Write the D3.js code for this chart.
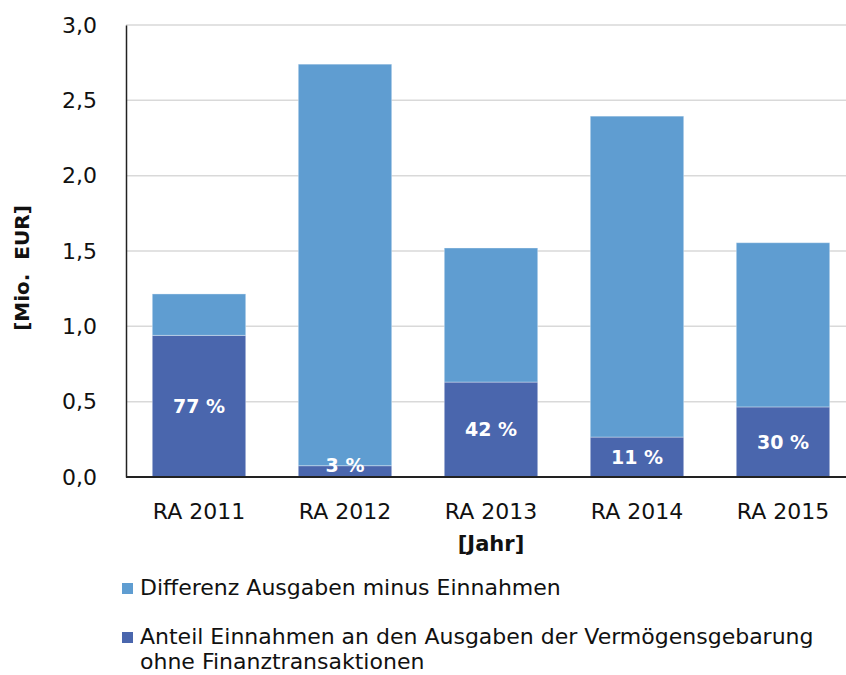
<!DOCTYPE html>
<html>
<head>
<meta charset="utf-8">
<script src="https://cdn.jsdelivr.net/npm/d3@7"></script>
<style>
  body { margin: 0; background: #fff; }
  svg text { font-family: "DejaVu Sans", Verdana, sans-serif; fill: #111; }
</style>
</head>
<body>
<svg id="chart" width="846" height="675"></svg>
<script>
// values (Mio. EUR)
const years = ['RA 2011', 'RA 2012', 'RA 2013', 'RA 2014', 'RA 2015']
const anteil = [0.94, 0.075, 0.63, 0.265, 0.465]
const differenz = [0.275, 2.665, 0.89, 2.13, 1.09]
const pctLabels = ['77 %', '3 %', '42 %', '11 %', '30 %']
const yTicks = [0, 0.5, 1, 1.5, 2, 2.5, 3]

const seriesNames = ['Anteil Einnahmen an den Ausgaben der Vermögensgebarung ohne Finanztransaktionen', 'Differenz Ausgaben minus Einnahmen']
const colors = ['#4a66ad', '#5f9dd1']

const svg = d3.select('#chart')
const plotLeft = 126, plotRight = 846, plotTop = 25, plotBottom = 477

const rows = years.map((y, i) => ({ year: y, anteil: anteil[i], differenz: differenz[i] }))
const stack = d3.stack().keys(['anteil', 'differenz'])(rows)

const x = d3.scaleBand().domain(years).range([plotLeft, plotLeft + 146 * 5]).paddingInner(0.36).paddingOuter(0.18)
const y = d3.scaleLinear().domain([0, 3]).range([plotBottom, plotTop])

// grid
svg.append('g')
  .selectAll('line')
  .data(yTicks.filter(d => d > 0))
  .join('line')
  .attr('x1', plotLeft).attr('x2', plotRight)
  .attr('y1', d => y(d)).attr('y2', d => y(d))
  .attr('stroke', '#d9d9d9').attr('stroke-width', 1.5)

// bars
svg.append('g')
  .selectAll('g')
  .data(stack)
  .join('g')
  .attr('fill', (d, i) => colors[i])
  .selectAll('rect')
  .data(d => d)
  .join('rect')
  .attr('x', d => x(d.data.year))
  .attr('width', x.bandwidth())
  .attr('y', d => y(d[1]))
  .attr('height', d => y(d[0]) - y(d[1]))
  .attr('stroke', 'rgba(255,255,255,0.35)')
  .attr('stroke-width', 1)

// percent labels inside the dark segment
svg.append('g')
  .selectAll('text')
  .data(rows)
  .join('text')
  .attr('x', d => x(d.year) + x.bandwidth() / 2)
  .attr('y', d => Math.min((y(0) + y(d.anteil)) / 2, y(0) - 12))
  .attr('dy', '0.35em')
  .attr('text-anchor', 'middle')
  .style('fill', '#fff')
  .style('font-weight', 'bold')
  .style('font-size', '19px')
  .text((d, i) => pctLabels[i])

// axes
const yAxis = svg.append('g')
  .attr('transform', `translate(${plotLeft},0)`)
  .call(d3.axisLeft(y).tickValues(yTicks).tickSize(0).tickPadding(29)
    .tickFormat(d => d3.format('.1f')(d).replace('.', ',')))
yAxis.select('.domain').attr('stroke', '#222').attr('stroke-width', 1.5)
yAxis.selectAll('text').style('font-size', '22px').attr('font-family', null)

svg.append('line')
  .attr('x1', plotLeft).attr('x2', plotRight)
  .attr('y1', plotBottom).attr('y2', plotBottom)
  .attr('stroke', '#222').attr('stroke-width', 2)

const xAxis = svg.append('g')
  .attr('transform', `translate(0,${plotBottom})`)
  .call(d3.axisBottom(x).tickSize(0).tickPadding(26))
xAxis.select('.domain').remove()
xAxis.selectAll('text').style('font-size', '22px').attr('font-family', null)

// axis titles
svg.append('text')
  .attr('x', 491).attr('y', 551)
  .attr('text-anchor', 'middle')
  .style('font-weight', 'bold').style('font-size', '21px')
  .text('[Jahr]')

svg.append('text')
  .attr('transform', 'translate(29,268) rotate(-90)')
  .attr('text-anchor', 'middle')
  .style('font-weight', 'bold').style('font-size', '20px')
  .style('white-space', 'pre')
  .text('[Mio.  EUR]')

// legend
const legend = svg.append('g').attr('transform', 'translate(122,0)')
const legendItems = [
  { color: colors[1], lines: [seriesNames[1]], y: 595 },
  { color: colors[0], lines: ['Anteil Einnahmen an den Ausgaben der Vermögensgebarung', 'ohne Finanztransaktionen'], y: 644 }
]
legendItems.forEach(item => {
  legend.append('rect')
    .attr('x', 0).attr('y', item.y - 12)
    .attr('width', 11).attr('height', 11)
    .attr('fill', item.color)
  legend.append('text')
    .attr('x', 18).attr('y', item.y)
    .style('font-size', '22px')
    .selectAll('tspan')
    .data(item.lines)
    .join('tspan')
    .attr('x', 18)
    .attr('dy', (d, i) => i === 0 ? 0 : 25)
    .text(d => d)
})
</script>
</body>
</html>
